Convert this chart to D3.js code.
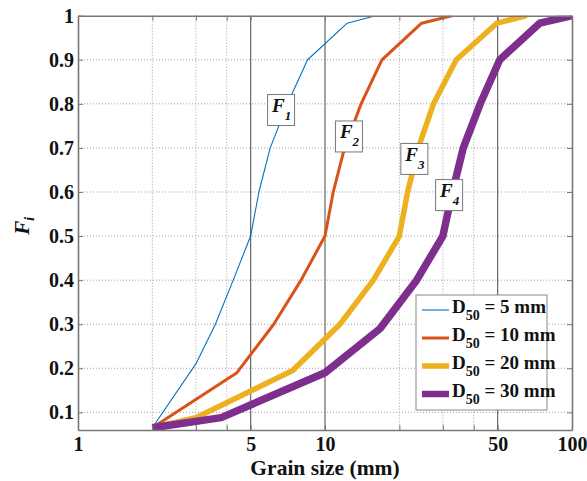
<!DOCTYPE html>
<html>
<head>
<meta charset="utf-8">
<script src="https://cdn.jsdelivr.net/npm/d3@7/dist/d3.min.js"></script>
<style>
  html, body { margin: 0; padding: 0; background: #fff; }
  svg { display: block; }
  text { font-family: "Liberation Serif", "Times New Roman", serif; font-weight: bold; fill: #111; }
</style>
</head>
<body>
<script>
// ---------- data ----------
const seriesNames = ["5 mm", "10 mm", "20 mm", "30 mm"];
const curveLabels = ["1", "2", "3", "4"];

const grainD5  = [2, 3, 3.6, 4.25, 5, 5.4, 6, 7.05, 8.5, 12.3, 16];
const fracD5   = [0.065, 0.21, 0.3, 0.4, 0.5, 0.6, 0.7, 0.8, 0.9, 0.983, 1];

const grainD10 = [2, 4.4, 6.2, 8, 10, 10.8, 12, 14, 17, 24.6, 32.6];
const fracD10  = [0.065, 0.19, 0.3, 0.4, 0.5, 0.6, 0.7, 0.8, 0.9, 0.983, 1];

const grainD20 = [2, 3, 7.4, 11.5, 15.7, 20, 21.6, 24.2, 27.5, 34, 49.6, 65.5];
const fracD20  = [0.065, 0.088, 0.195, 0.3, 0.4, 0.5, 0.6, 0.71, 0.8, 0.9, 0.983, 1];

const grainD30 = [2, 3.8, 10, 16.7, 23.5, 30, 32.8, 36.3, 42.5, 51, 74, 100];
const fracD30  = [0.065, 0.088, 0.19, 0.29, 0.4, 0.5, 0.6, 0.7, 0.8, 0.9, 0.983, 1];

const xTickValues = [1, 2, 3, 4, 5, 10, 20, 30, 40, 50, 100];
const xTickLabels = [1, 5, 10, 50, 100];
const xMinorGrid  = [2, 3, 4, 20, 30, 40];
const xRefLines   = [5, 10, 50];
const yTickValues = [0.1, 0.2, 0.3, 0.4, 0.5, 0.6, 0.7, 0.8, 0.9, 1];

// label anchors in data units (grain size, F)
const labelGrain = [6.64, 12.5, 23.0, 31.8];
const labelFrac  = [0.786, 0.726, 0.675, 0.593];

// ---------- layout ----------
const W = 587, H = 481;
const m = { left: 78, top: 15.7, right: 15, bottom: 51 };
const iw = W - m.left - m.right, ih = H - m.top - m.bottom;
const colors = ["#0072BD", "#D95319", "#EDB120", "#7E2F8E"];
const widths = [1.1, 3, 5.5, 7.5];

const x = d3.scaleLog().domain([1, 100]).range([0, iw]);
const y = d3.scaleLinear().domain([0.06, 1]).range([ih, 0]);

const svg = d3.select("body").append("svg").attr("width", W).attr("height", H);
const g = svg.append("g").attr("transform", `translate(${m.left},${m.top})`);

svg.append("defs").append("clipPath").attr("id", "clip")
  .append("rect").attr("width", iw).attr("height", ih);

// grid
g.append("g").selectAll("line").data(yTickValues.filter(v => v < 1)).join("line")
  .attr("x1", 0).attr("x2", iw).attr("y1", d => y(d)).attr("y2", d => y(d))
  .attr("stroke", "#a0a0a0").attr("stroke-width", 1).attr("stroke-dasharray", "1,2");
g.append("g").selectAll("line").data(xMinorGrid).join("line")
  .attr("x1", d => x(d)).attr("x2", d => x(d)).attr("y1", 0).attr("y2", ih)
  .attr("stroke", "#a0a0a0").attr("stroke-width", 1).attr("stroke-dasharray", "1,2");
g.append("g").selectAll("line").data(xRefLines).join("line")
  .attr("x1", d => x(d)).attr("x2", d => x(d)).attr("y1", 0).attr("y2", ih)
  .attr("stroke", "#666").attr("stroke-width", 1.2);

// curves
const series = [
  { xs: grainD5, fs: fracD5 },
  { xs: grainD10, fs: fracD10 },
  { xs: grainD20, fs: fracD20 },
  { xs: grainD30, fs: fracD30 }
];
const line = d3.line().x(d => x(d[0])).y(d => y(d[1]));
g.append("g").attr("clip-path", "url(#clip)").selectAll("path").data(series).join("path")
  .attr("d", s => line(s.xs.map((v, i) => [v, s.fs[i]])))
  .attr("fill", "none")
  .attr("stroke", (s, i) => colors[i])
  .attr("stroke-width", (s, i) => widths[i])
  .attr("stroke-linejoin", "round");

// axes box + ticks
const axisColor = "#777";
const xb = d3.axisBottom(x).tickValues(xTickValues).tickSizeInner(-5).tickSizeOuter(0)
  .tickFormat(d => xTickLabels.includes(d) ? d : "");
const xt = d3.axisTop(x).tickValues(xTickValues).tickSizeInner(-5).tickSizeOuter(0).tickFormat("");
const yl = d3.axisLeft(y).tickValues(yTickValues).tickSizeInner(-5).tickSizeOuter(0)
  .tickFormat(d => d === 1 ? "1" : d3.format(".1f")(d));
const yr = d3.axisRight(y).tickValues(yTickValues).tickSizeInner(-5).tickSizeOuter(0).tickFormat("");

function styleAxis(sel) {
  sel.select(".domain").attr("stroke", axisColor).attr("stroke-width", 1.6);
  sel.selectAll(".tick line").attr("stroke", axisColor).attr("stroke-width", 1);
  sel.selectAll(".tick text").attr("fill", "#111")
    .style("font-family", '"Liberation Serif", serif').style("font-weight", "bold").style("font-size", "20px");
}
const gxb = g.append("g").attr("transform", `translate(0,${ih})`).call(xb).call(styleAxis);
gxb.selectAll(".tick text").attr("y", 21).attr("dy", null);
g.append("g").call(xt).call(styleAxis);
const gyl = g.append("g").call(yl).call(styleAxis);
gyl.selectAll(".tick text").attr("x", -4);
g.append("g").attr("transform", `translate(${iw},0)`).call(yr).call(styleAxis);

// axis titles
svg.append("text").attr("x", m.left + iw / 2).attr("y", 475).attr("text-anchor", "middle")
  .style("font-size", "21.5px").text("Grain size (mm)");
const yt = svg.append("text").attr("transform", `translate(29,${m.top + ih / 2 + 3}) rotate(-90)`)
  .attr("text-anchor", "middle").style("font-size", "21px").style("font-style", "italic");
yt.append("tspan").text("F");
yt.append("tspan").attr("dy", 5).style("font-size", "14px").text("i");

// curve labels
const lab = g.append("g").selectAll("g").data(curveLabels).join("g")
  .attr("transform", (d, i) => `translate(${x(labelGrain[i])},${y(labelFrac[i])})`);
lab.append("rect").attr("x", -13.5).attr("y", -15.5).attr("width", 27).attr("height", 31)
  .attr("fill", "#fff").attr("stroke", "#777").attr("stroke-width", 1);
const lt = lab.append("text").attr("x", -9).attr("y", 2).style("font-size", "19px").style("font-style", "italic");
lt.append("tspan").text("F");
lt.append("tspan").attr("dy", 8).style("font-size", "13px").text(d => d);

// legend
const lg = svg.append("g").attr("transform", "translate(416,295)");
lg.append("rect").attr("width", 131).attr("height", 115)
  .attr("fill", "#fff").attr("stroke", "#888").attr("stroke-width", 1);
const rows = lg.selectAll("g").data(seriesNames).join("g")
  .attr("transform", (d, i) => `translate(0,${15 + i * 28})`);
rows.append("line").attr("x1", 6).attr("x2", 33).attr("y1", 0).attr("y2", 0)
  .attr("stroke", (d, i) => colors[i]).attr("stroke-width", (d, i) => Math.min(widths[i], 6.5));
const rt = rows.append("text").attr("x", 36).attr("y", 3).style("font-size", "19px");
rt.append("tspan").text("D");
rt.append("tspan").attr("dy", 7).style("font-size", "14px").text("50");
rt.append("tspan").attr("dy", -7).text(d => " = " + d);
</script>
</body>
</html>
